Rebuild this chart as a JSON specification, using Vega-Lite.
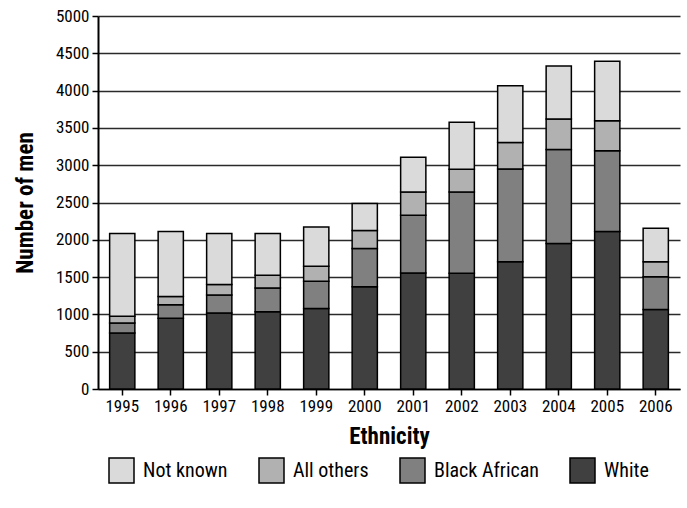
{
  "$schema": "https://vega.github.io/schema/vega-lite/v6.json",
  "autosize": "none",
  "width": 582,
  "height": 373,
  "padding": {"left": 98, "top": 16, "right": 7, "bottom": 119},
  "background": "white",
  "config": {
    "font": "Roboto Condensed, Liberation Sans Narrow, Roboto, sans-serif",
    "view": {"stroke": null}
  },
  "data": {
    "values": [
      {"year": "1995", "group": "White", "k": 1, "men": 750},
      {"year": "1995", "group": "Black African", "k": 2, "men": 135},
      {"year": "1995", "group": "All others", "k": 3, "men": 90},
      {"year": "1995", "group": "Not known", "k": 4, "men": 1110},
      {"year": "1996", "group": "White", "k": 1, "men": 950},
      {"year": "1996", "group": "Black African", "k": 2, "men": 180},
      {"year": "1996", "group": "All others", "k": 3, "men": 110},
      {"year": "1996", "group": "Not known", "k": 4, "men": 870},
      {"year": "1997", "group": "White", "k": 1, "men": 1020},
      {"year": "1997", "group": "Black African", "k": 2, "men": 240},
      {"year": "1997", "group": "All others", "k": 3, "men": 140},
      {"year": "1997", "group": "Not known", "k": 4, "men": 685},
      {"year": "1998", "group": "White", "k": 1, "men": 1035},
      {"year": "1998", "group": "Black African", "k": 2, "men": 320},
      {"year": "1998", "group": "All others", "k": 3, "men": 170},
      {"year": "1998", "group": "Not known", "k": 4, "men": 560},
      {"year": "1999", "group": "White", "k": 1, "men": 1080},
      {"year": "1999", "group": "Black African", "k": 2, "men": 365},
      {"year": "1999", "group": "All others", "k": 3, "men": 200},
      {"year": "1999", "group": "Not known", "k": 4, "men": 525},
      {"year": "2000", "group": "White", "k": 1, "men": 1370},
      {"year": "2000", "group": "Black African", "k": 2, "men": 515},
      {"year": "2000", "group": "All others", "k": 3, "men": 240},
      {"year": "2000", "group": "Not known", "k": 4, "men": 360},
      {"year": "2001", "group": "White", "k": 1, "men": 1555},
      {"year": "2001", "group": "Black African", "k": 2, "men": 775},
      {"year": "2001", "group": "All others", "k": 3, "men": 310},
      {"year": "2001", "group": "Not known", "k": 4, "men": 465},
      {"year": "2002", "group": "White", "k": 1, "men": 1550},
      {"year": "2002", "group": "Black African", "k": 2, "men": 1090},
      {"year": "2002", "group": "All others", "k": 3, "men": 305},
      {"year": "2002", "group": "Not known", "k": 4, "men": 630},
      {"year": "2003", "group": "White", "k": 1, "men": 1705},
      {"year": "2003", "group": "Black African", "k": 2, "men": 1245},
      {"year": "2003", "group": "All others", "k": 3, "men": 355},
      {"year": "2003", "group": "Not known", "k": 4, "men": 760},
      {"year": "2004", "group": "White", "k": 1, "men": 1950},
      {"year": "2004", "group": "Black African", "k": 2, "men": 1260},
      {"year": "2004", "group": "All others", "k": 3, "men": 410},
      {"year": "2004", "group": "Not known", "k": 4, "men": 710},
      {"year": "2005", "group": "White", "k": 1, "men": 2110},
      {"year": "2005", "group": "Black African", "k": 2, "men": 1085},
      {"year": "2005", "group": "All others", "k": 3, "men": 400},
      {"year": "2005", "group": "Not known", "k": 4, "men": 800},
      {"year": "2006", "group": "White", "k": 1, "men": 1065},
      {"year": "2006", "group": "Black African", "k": 2, "men": 440},
      {"year": "2006", "group": "All others", "k": 3, "men": 200},
      {"year": "2006", "group": "Not known", "k": 4, "men": 450}
    ]
  },
  "mark": {"type": "bar", "stroke": "black", "strokeWidth": 1.5},
  "encoding": {
    "x": {
      "field": "year",
      "type": "ordinal",
      "title": "Ethnicity",
      "scale": {"paddingInner": 0.48, "paddingOuter": 0.24},
      "axis": {
        "labelAngle": 0,
        "labelFontSize": 17,
        "labelColor": "black",
        "labelPadding": 3,
        "tickColor": "black",
        "tickWidth": 1.5,
        "tickSize": 6,
        "domainColor": "black",
        "domainWidth": 1.5,
        "titleFontSize": 23,
        "titleFontWeight": "bold",
        "titleColor": "black",
        "titlePadding": 11
      }
    },
    "y": {
      "field": "men",
      "type": "quantitative",
      "stack": "zero",
      "title": "Number of men",
      "scale": {"domain": [0, 5000], "nice": false},
      "axis": {
        "values": [0, 500, 1000, 1500, 2000, 2500, 3000, 3500, 4000, 4500, 5000],
        "format": "d",
        "labelFontSize": 17,
        "labelColor": "black",
        "labelPadding": 3,
        "tickColor": "black",
        "tickWidth": 1.5,
        "tickSize": 6,
        "domainColor": "black",
        "domainWidth": 2,
        "grid": true,
        "gridColor": "#2a2a2a",
        "gridWidth": 1.4,
        "titleFontSize": 23,
        "titleFontWeight": "bold",
        "titleColor": "black",
        "titlePadding": 18
      }
    },
    "color": {
      "field": "group",
      "type": "nominal",
      "scale": {
        "domain": ["Not known", "All others", "Black African", "White"],
        "range": ["#dadada", "#b1b1b1", "#808080", "#404040"]
      },
      "legend": {
        "title": null,
        "orient": "none",
        "direction": "horizontal",
        "legendX": 10,
        "legendY": 441,
        "symbolType": "square",
        "symbolSize": 625,
        "symbolStrokeColor": "black",
        "symbolStrokeWidth": 1.5,
        "labelFontSize": 20,
        "labelColor": "black",
        "labelOffset": 8,
        "columnPadding": 28
      }
    },
    "order": {"field": "k", "type": "quantitative", "sort": "ascending"}
  }
}
